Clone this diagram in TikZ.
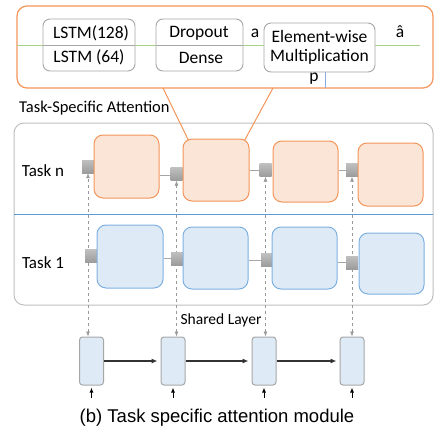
\documentclass[tikz,border=0pt]{standalone}
\usepackage{fontspec}
\setmainfont{Carlito}
\newfontfamily\capfont{Liberation Sans}
\usetikzlibrary{arrows.meta,calc}
\definecolor{orgline}{HTML}{F4955A}
\definecolor{orgfill}{HTML}{FBE5D6}
\definecolor{blueline}{HTML}{7DB0E0}
\definecolor{bluefill}{HTML}{DEEBF7}
\definecolor{frame}{HTML}{BFBFBF}
\definecolor{boxgray}{HTML}{A6A6A6}
\definecolor{divider}{HTML}{5B9BD5}
\definecolor{seqgreen}{HTML}{A9D18E}
\definecolor{plink}{HTML}{8FAADC}
\tikzset{
  boxfont/.style={font=\fontsize{17.5}{20}\selectfont},
  layerbox/.style={draw=boxgray, line width=0.9pt, rounded corners=7pt, fill=white,
    inner sep=0pt, align=center, boxfont},
  orgcell/.style={draw=orgline, fill=orgfill, line width=1pt, rounded corners=9pt, inner sep=0pt},
  bluecell/.style={draw=blueline, fill=bluefill, line width=1pt, rounded corners=9pt, inner sep=0pt},
  gate/.style={inner sep=0pt, minimum width=12pt, minimum height=13pt, top color=gray!50, bottom color=gray!78, draw=none},
  sharedcell/.style={draw=boxgray, fill=bluefill, line width=1pt, rounded corners=3pt, inner sep=0pt,
    minimum width=24pt, minimum height=48pt},
  lbl/.style={font=\fontsize{16.5}{19}\selectfont, inner sep=0pt},
  dasharrow/.style={draw=gray!80, dashed, line width=0.7pt, {Latex[length=5pt,width=4pt]}-{Latex[length=5pt,width=4pt]}},
  thinlink/.style={draw=gray!70, line width=0.8pt},
  seqarrow/.style={draw=black!80, line width=1.1pt, -{Latex[length=6pt,width=5pt]}},
  inarrow/.style={draw=black, line width=1pt, -{Latex[length=5pt,width=4pt]}}
}
\begin{document}
\begin{tikzpicture}[x=1pt,y=-1pt]
\useasboundingbox (0,0) rectangle (435,434);

% ---- attention block detail ----
\draw[orgline, line width=1.2pt, rounded corners=10pt] (17,6) rectangle (433,88);
\node[layerbox, minimum width=92pt, minimum height=52pt] (lstm) at (89,45) {};
\node[layerbox, minimum width=87pt, minimum height=52pt] (drop) at (199.5,45) {};
\node[layerbox, minimum width=111pt, minimum height=49pt] (elem) at (319.5,47.5)
  {Element-wise\\[-1pt]Multiplication};
\draw[boxgray, line width=0.9pt] (lstm.west) -- (lstm.east);
\draw[boxgray, line width=0.9pt] (drop.west) -- (drop.east);
\node[lbl, boxfont] at (91,33) {LSTM(128)};
\node[lbl, boxfont] at (89,57) {LSTM (64)};
\node[lbl, boxfont] at (199,33) {Dropout};
\node[lbl, boxfont] at (201,58) {Dense};

\coordinate (seqin) at (17,45);
\coordinate (seqout) at (420,45);
\draw[seqgreen, line width=1pt] (seqin) -- (lstm.west);
\draw[seqgreen, line width=1pt] (lstm.east) -- (drop.west);
\draw[seqgreen, line width=1pt] (drop.east) -- (drop.east -| elem.west);
\draw[seqgreen, line width=1pt] (seqout -| elem.east) -- (seqout);
\node[lbl, boxfont] (alab) at (255,33) {a};
\node[lbl, boxfont] (ahat) at (400,32) {â};
\node[lbl, boxfont] (plab) at (314,79) {p};
\coordinate (pbase) at (325,88);
\draw[plink, line width=1pt] (pbase |- elem.south) -- (pbase);

\node[lbl, anchor=west] (tsa) at (19,108) {Task-Specific Attention};

% ---- task-specific stacks ----
\draw[frame, line width=1pt, rounded corners=10pt] (14,123) rectangle (433,305);
\coordinate (divl) at (14,214);
\coordinate (divr) at (433,214);
\draw[divider, line width=1pt] (divl) -- (divr);
\node[lbl, font=\fontsize{17}{20}\selectfont] (taskn) at (43,171) {Task n};
\node[lbl, font=\fontsize{17}{20}\selectfont] (task1) at (43,263) {Task 1};
\node[lbl, font=\fontsize{15.5}{18}\selectfont] (shl) at (221,320) {Shared Layer};

% shared layer cells
\node[sharedcell] (s1) at (91.5,361) {};
\node[sharedcell] (s2) at (173,361) {};
\node[sharedcell] (s3) at (264,361) {};
\node[sharedcell] (s4) at (352,361) {};

% gates of task n and task 1
\node[gate] (n1) at (88,166.5) {};
\node[gate] (n2) at (176.5,174) {};
\node[gate] (n3) at (265.5,170) {};
\node[gate] (n4) at (352,170) {};

% dashed links between shared layer and the task gates
\foreach \i in {1,2,3,4}
  \draw[dasharrow] (s\i.north -| n\i.south) -- (n\i.south);

\node[gate] (t1) at (91,256) {};
\node[gate] (t2) at (177,258.5) {};
\node[gate] (t3) at (267,260) {};
\node[gate] (t4) at (352,262.5) {};

% task n cells
\node[orgcell, minimum width=65pt, minimum height=63pt] (o1) at (126.5,166.5) {};
\node[orgcell, minimum width=66pt, minimum height=62pt] (o2) at (216,170) {};
\node[orgcell, minimum width=65pt, minimum height=61pt] (o3) at (305.5,171.5) {};
\node[orgcell, minimum width=65pt, minimum height=63pt] (o4) at (390.5,174.5) {};
% task 1 cells
\node[bluecell, minimum width=66pt, minimum height=63pt] (b1) at (130,256.5) {};
\node[bluecell, minimum width=65pt, minimum height=62pt] (b2) at (215.5,258) {};
\node[bluecell, minimum width=65pt, minimum height=62pt] (b3) at (304.5,258) {};
\node[bluecell, minimum width=65pt, minimum height=61pt] (b4) at (391.5,263.5) {};

\draw[thinlink] ([yshift=-1pt]n2.west -| o1.east) -- ([yshift=-1pt]n2.west);
\draw[thinlink] (n3.west -| o2.east) -- (n3.west);
\draw[thinlink] (n4.west -| o3.east) -- (n4.west);
\draw[thinlink] (t2.west -| b1.east) -- (t2.west);
\draw[thinlink] (t3.west -| b2.east) -- (t3.west);
\draw[thinlink] (t4.west -| b3.east) -- (t4.west);

% zoom lines from the detail block to a task cell
\coordinate (zl) at (163,88);
\coordinate (zr) at (273,88);
\draw[orgline, line width=1pt] (zl) -- ($(o2.north west)+(6,2)$);
\draw[orgline, line width=1pt] (zr) -- ($(o2.north east)+(-5,2)$);

% shared layer recurrence and inputs
\draw[seqarrow] (s1.east) -- ([xshift=-3pt]s2.west);
\draw[seqarrow] (s2.east) -- ([xshift=-3pt]s3.west);
\draw[seqarrow] (s3.east) -- ([xshift=-3pt]s4.west);
\foreach \i in {1,2,3,4} {
  \coordinate (in\i) at ($(s\i.south)+(0,12)$);
  \draw[inarrow] (in\i) -- ([yshift=-2pt]s\i.south);
}

\node[font=\capfont\fontsize{18.5}{22}\selectfont, inner sep=0pt] (cap) at (217,418)
  {(b) Task specific attention module};
\end{tikzpicture}
\end{document}
